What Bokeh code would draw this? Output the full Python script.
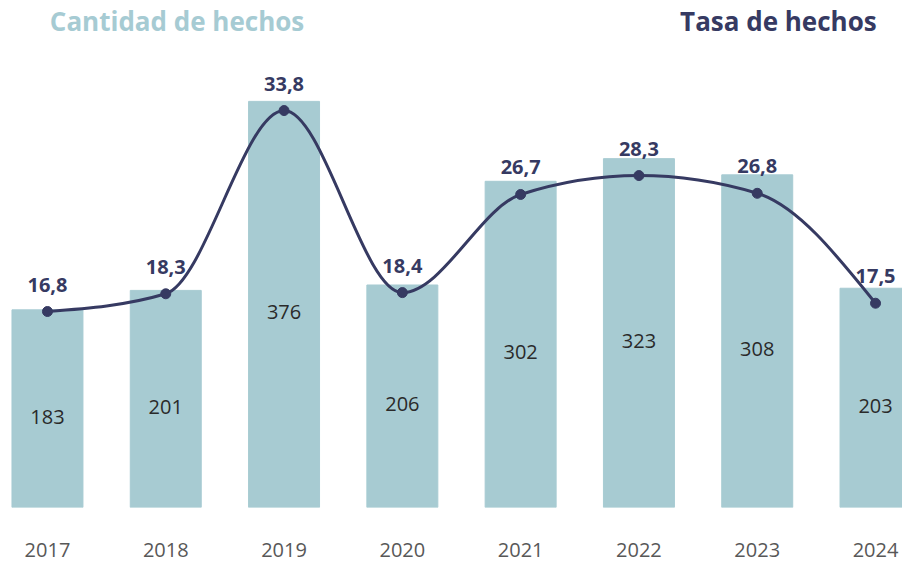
from bokeh.plotting import figure
from bokeh.models import Range1d, FixedTicker, Label
from bokeh.embed import file_html
from bokeh.resources import INLINE
from bokeh.core.properties import value

years = [2017, 2018, 2019, 2020, 2021, 2022, 2023, 2024]
hechos = [183, 201, 376, 206, 302, 323, 308, 203]
tasa = [16.8, 18.3, 33.8, 18.4, 26.7, 28.3, 26.8, 17.5]
tasa_labels = ["16,8", "18,3", "33,8", "18,4", "26,7", "28,3", "26,8", "17,5"]
hechos_labels = [str(v) for v in hechos]
year_labels = [str(y) for y in years]

BAR = "#a7cbd2"
NAVY = "#363a62"
FONT = "Open Sans"

p = figure(width=902, height=563, output_backend="svg", toolbar_location=None,
           x_range=Range1d(2016.603, 2024.228), y_range=Range1d(0, 469.4),
           y_axis_location=None,
           min_border_left=0, min_border_right=0, min_border_top=0, min_border_bottom=56)
p.extra_y_ranges = {"rate": Range1d(0.22, 43.11)}
p.outline_line_color = None
p.grid.visible = False
p.background_fill_color = "white"
p.border_fill_color = "white"

xa = p.xaxis[0]
xa.ticker = FixedTicker(ticks=years)
xa.major_label_overrides = {y: s for y, s in zip(years, year_labels)}
xa.axis_line_color = None
xa.major_tick_line_color = None
xa.minor_tick_line_color = None
xa.major_label_text_font = FONT
xa.major_label_text_font_size = "20px"
xa.major_label_text_color = "#585858"
xa.major_label_standoff = 29

# bars
p.vbar(x=years, top=hechos, width=0.6, color=BAR)

# bar value labels
mid = [v / 2 for v in hechos]
p.text(x=years, y=mid, text=hechos_labels, text_align="center", text_baseline="middle",
       y_offset=8, text_font=value(FONT), text_font_size="20px", text_color="#2a2a2a")

# smooth monotone curve (cubic Hermite segments drawn as beziers)
n = len(years)
sec = [(tasa[i + 1] - tasa[i]) / (years[i + 1] - years[i]) for i in range(n - 1)]
slopes = [0.0] * n
for i in range(1, n - 1):
    s0, s1 = sec[i - 1], sec[i]
    if s0 * s1 <= 0:
        slopes[i] = 0.0
    else:
        pmid = (s0 + s1) / 2
        sg = 1 if s0 > 0 else -1
        slopes[i] = 2 * sg * min(abs(s0), abs(s1), 0.5 * abs(pmid))
slopes[0] = (3 * sec[0] - slopes[1]) / 2
slopes[-1] = (3 * sec[-1] - slopes[-2]) / 2

x0, y0, x1, y1, cx0, cy0, cx1, cy1 = [], [], [], [], [], [], [], []
for i in range(n - 1):
    h = years[i + 1] - years[i]
    x0.append(years[i]); y0.append(tasa[i])
    x1.append(years[i + 1]); y1.append(tasa[i + 1])
    cx0.append(years[i] + h / 3); cy0.append(tasa[i] + slopes[i] * h / 3)
    cx1.append(years[i + 1] - h / 3); cy1.append(tasa[i + 1] - slopes[i + 1] * h / 3)
p.bezier(x0=x0, y0=y0, x1=x1, y1=y1, cx0=cx0, cy0=cy0, cx1=cx1, cy1=cy1,
         line_color=NAVY, line_width=3, y_range_name="rate")
p.scatter(x=years, y=tasa, size=10, color=NAVY, y_range_name="rate")

p.text(x=years, y=tasa, text=tasa_labels, text_align="center", text_baseline="middle",
       y_offset=-27, y_range_name="rate", text_font=value(FONT), text_font_size="20px",
       text_font_style="bold", text_color=NAVY)

# headers
p.add_layout(Label(x=2017.02, y=450.5, text="Cantidad de hechos", text_align="left",
                   text_baseline="alphabetic", text_font=FONT, text_font_size="26px",
                   text_font_style="bold", text_color="#a6cbd3"))
p.add_layout(Label(x=2024.01, y=450.5, text="Tasa de hechos", text_align="right",
                   text_baseline="alphabetic", text_font=FONT, text_font_size="26px",
                   text_font_style="bold", text_color=NAVY))

open("out.html", "w").write(file_html(p, INLINE))
